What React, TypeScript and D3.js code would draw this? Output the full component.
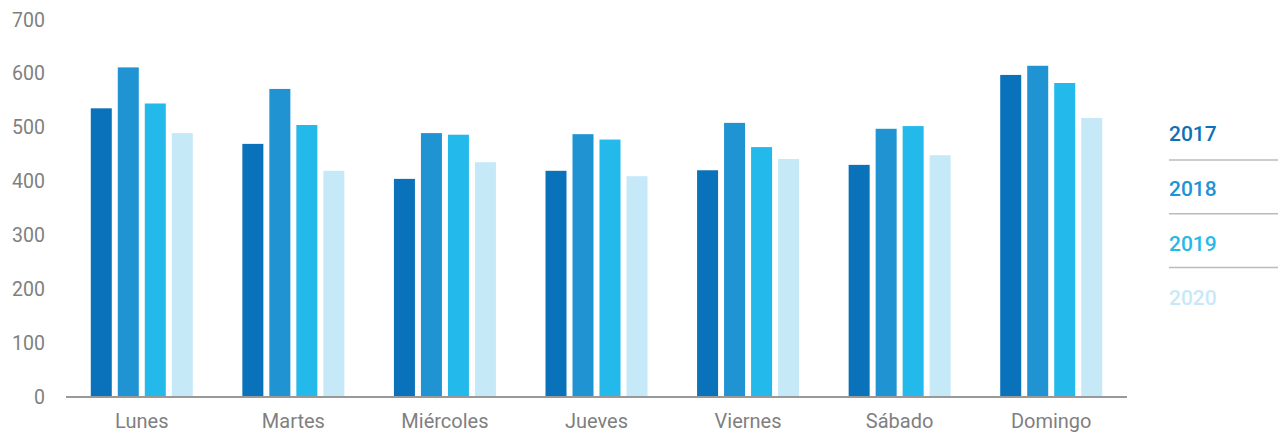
import React, { useRef, useEffect } from 'react';
import * as d3 from 'd3';

const days = ['Lunes', 'Martes', 'Miércoles', 'Jueves', 'Viernes', 'Sábado', 'Domingo'];
const years = ['2017', '2018', '2019', '2020'];
const values2017 = [536, 470, 405, 420, 421, 431, 598];
const values2018 = [612, 572, 490, 488, 509, 498, 615];
const values2019 = [545, 505, 487, 478, 464, 503, 583];
const values2020 = [490, 420, 436, 410, 442, 449, 518];
const yTicks = [0, 100, 200, 300, 400, 500, 600, 700];
const colors = ['#0a72ba', '#2093d3', '#23b9ea', '#c6e9f8'];

const series = [values2017, values2018, values2019, values2020];

const App: React.FC = () => {
  const svgRef = useRef<SVGSVGElement>(null);

  useEffect(() => {
    if (!svgRef.current) return;
    const svg = d3.select(svgRef.current);
    svg.selectAll('*').remove();

    const font = 'Roboto, "Noto Sans", sans-serif';

    const x0 = d3.scaleBand<string>()
      .domain(days)
      .range([66, 1127])
      .paddingInner(0.327)
      .paddingOuter(0.1635);

    const x1 = d3.scaleBand<string>()
      .domain(years)
      .range([0, x0.bandwidth()])
      .paddingInner(0.222)
      .paddingOuter(0);

    const y = d3.scaleLinear().domain([0, 700]).range([397, 20]);

    // y tick labels, no axis line
    svg.append('g')
      .selectAll('text')
      .data(yTicks)
      .enter()
      .append('text')
      .attr('x', 45)
      .attr('y', d => y(d))
      .attr('text-anchor', 'end')
      .attr('dominant-baseline', 'central')
      .attr('font-family', font)
      .attr('font-size', '19.5px')
      .attr('fill', '#7f7f7f')
      .text(d => d);

    // bars
    const groups = svg.append('g')
      .selectAll('g')
      .data(days)
      .enter()
      .append('g')
      .attr('transform', d => `translate(${x0(d)},0)`);

    groups.selectAll('rect')
      .data((_, i) => years.map((yr, j) => ({ yr, v: series[j][i], c: colors[j] })))
      .enter()
      .append('rect')
      .attr('x', d => x1(d.yr)!)
      .attr('width', x1.bandwidth())
      .attr('y', d => y(d.v))
      .attr('height', d => y(0) - y(d.v))
      .attr('fill', d => d.c);

    // baseline
    svg.append('line')
      .attr('x1', 66)
      .attr('x2', 1127)
      .attr('y1', y(0))
      .attr('y2', y(0))
      .attr('stroke', '#999')
      .attr('stroke-width', 2);

    // x labels
    svg.append('g')
      .selectAll('text')
      .data(days)
      .enter()
      .append('text')
      .attr('x', d => x0(d)! + x0.bandwidth() / 2)
      .attr('y', 428)
      .attr('text-anchor', 'middle')
      .attr('font-family', font)
      .attr('font-size', '20px')
      .attr('fill', '#7f7f7f')
      .text(d => d);

    // legend
    const legend = svg.append('g').attr('transform', 'translate(1169,0)');
    years.forEach((yr, i) => {
      legend.append('text')
        .attr('x', 0)
        .attr('y', 141 + i * 54.8)
        .attr('font-family', font)
        .attr('font-size', '21px')
        .attr('font-weight', 500)
        .attr('fill', colors[i])
        .text(yr);
      if (i < years.length - 1) {
        legend.append('line')
          .attr('x1', 0)
          .attr('x2', 109)
          .attr('y1', 160 + i * 53.8)
          .attr('y2', 160 + i * 53.8)
          .attr('stroke', '#bbb')
          .attr('stroke-width', 1.5);
      }
    });
  }, []);

  return (
    <svg
      ref={svgRef}
      width={1286}
      height={432}
      style={{ position: 'absolute', left: 0, top: 0, background: '#fff' }}
    />
  );
};

export default App;
